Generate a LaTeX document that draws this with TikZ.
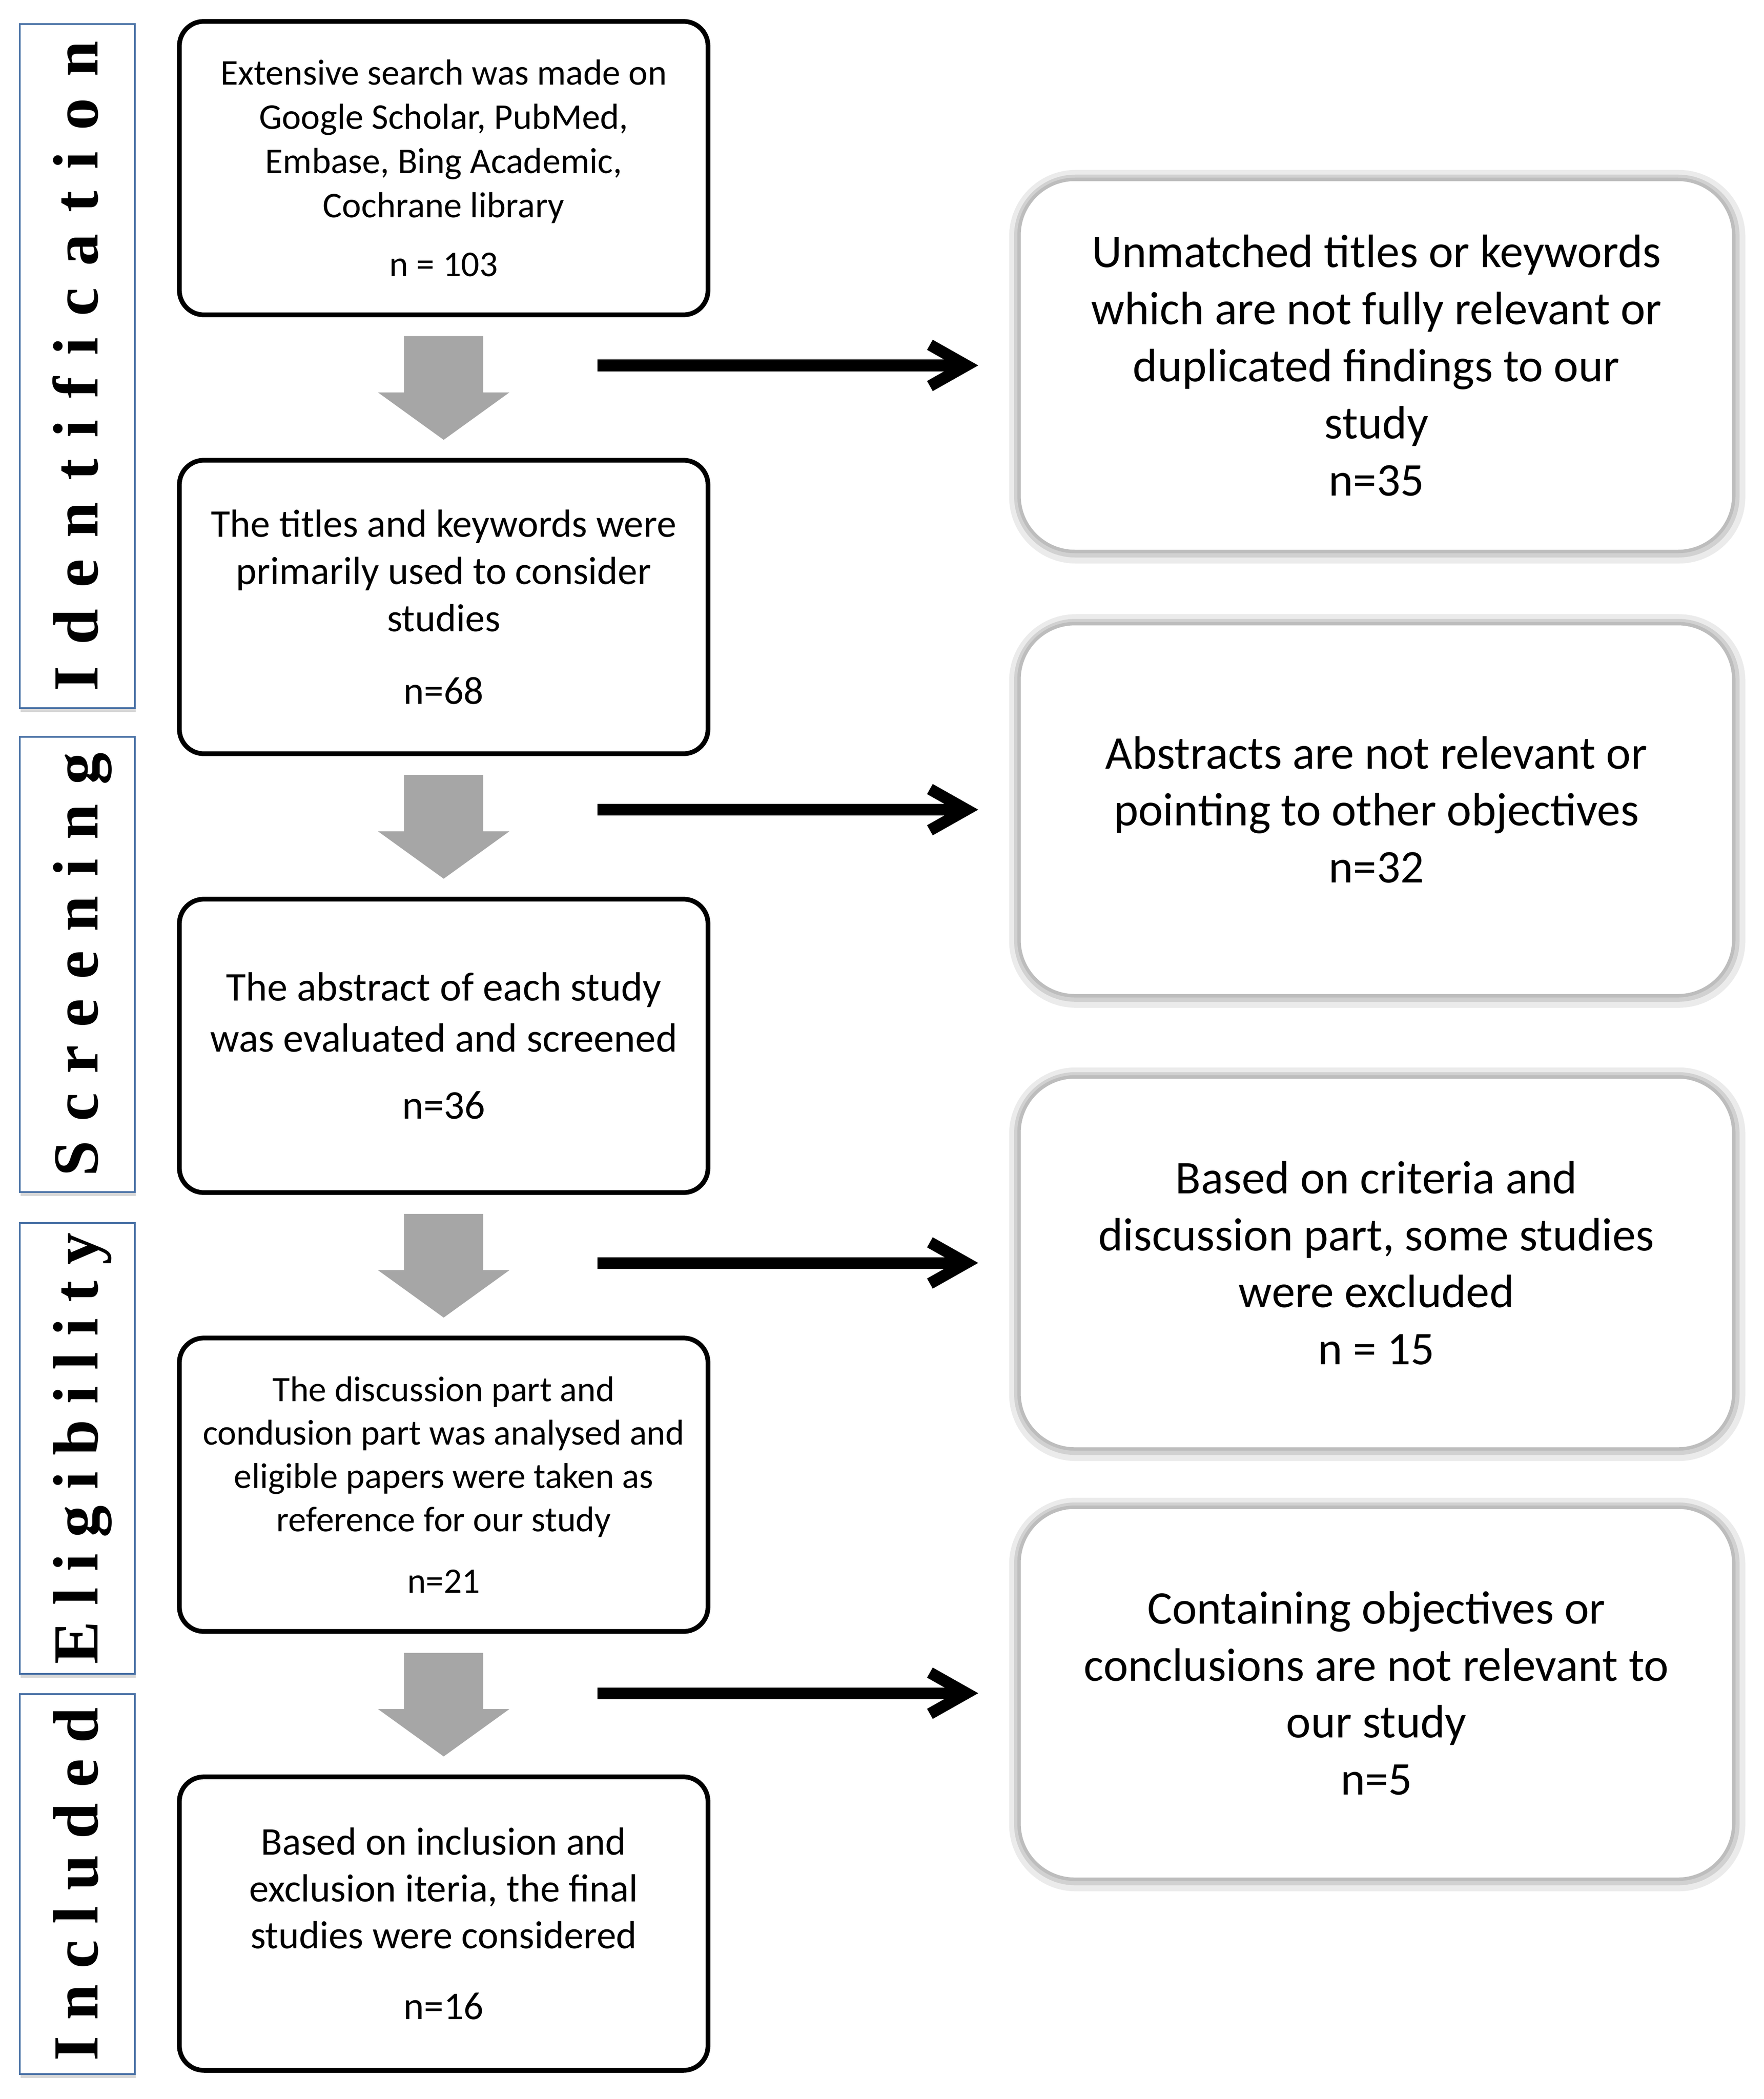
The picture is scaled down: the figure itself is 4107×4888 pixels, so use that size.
\documentclass[tikz,border=0pt]{standalone}
\usepackage{fontspec}
\setmainfont{Carlito}
\newfontfamily\sbfont{Liberation Serif}
\usetikzlibrary{arrows.meta,calc,shadows}
\definecolor{sbblue}{RGB}{74,114,166}
\definecolor{garrowc}{RGB}{166,166,166}
\begin{document}
\begin{tikzpicture}[x=0.01cm,y=-0.01cm,
  lbox/.style={draw=black, line width=0.11cm, rounded corners=0.57cm, fill=white,
    minimum width=12.3cm, minimum height=6.83cm, align=center, inner sep=0pt,
    drop shadow={shadow xshift=0.035cm, shadow yshift=-0.045cm, fill=gray!55, opacity=0.8}},
  rbox/.style={draw=gray!52, line width=0.08cm, rounded corners=1.3cm, fill=white,
    minimum width=16.63cm, minimum height=8.66cm, align=center, inner sep=0pt,
    preaction={draw=gray!16, line width=0.5cm, transform canvas={xshift=0.02cm,yshift=-0.03cm}},
    preaction={draw=gray!36, line width=0.25cm, transform canvas={xshift=0.01cm,yshift=-0.015cm}},
    font=\fontsize{31}{37.8}\selectfont},
  sbox/.style={draw=sbblue, line width=0.04cm, fill=white, minimum width=2.68cm, inner sep=0pt,
    drop shadow={shadow xshift=0.02cm, shadow yshift=-0.09cm, fill=gray!45, opacity=0.7}},
  slabel/.style={rotate=90, anchor=base, inner sep=0pt,
    font=\sbfont\bfseries\fontsize{42.5}{50}\selectfont},
  garrow/.style={fill=garrowc, draw=none},
  harrow/.style={line width=0.27cm, -{Straight Barb[length=0.85cm,width=0.96cm]}}
]
\useasboundingbox (0,0) rectangle (4107,4888);

% side bars
\node[sbox, minimum height=15.93cm] (s1) at (180,852.5) {};
\node[sbox, minimum height=10.60cm] (s2) at (180,2246) {};
\node[sbox, minimum height=10.50cm] (s3) at (180,3373) {};
\node[sbox, minimum height=8.85cm] (s4) at (180,4387.5) {};
\node[slabel] (t1) at ([xshift=0.47cm]s1.center) {\addfontfeature{LetterSpace=33.5}Identification};
\node[slabel] (t2) at ([xshift=0.47cm]s2.center) {\addfontfeature{LetterSpace=30}Screening};
\node[slabel] (t3) at ([xshift=0.47cm]s3.center) {\addfontfeature{LetterSpace=25}Eligibility};
\node[slabel] (t4) at ([xshift=0.47cm]s4.center) {\addfontfeature{LetterSpace=24.7}Included};

% left boxes
\node[lbox, font=\fontsize{24}{29.3}\selectfont] (b1) at (1033,391.5)
  {Extensive search was made on\\ Google Scholar, PubMed,\\ Embase, Bing Academic,\\ Cochrane library\\[9.7pt] n = 103};
\node[lbox, font=\fontsize{26}{31.3}\selectfont] (b2) at (1033,1413.5)
  {The titles and keywords were\\ primarily used to consider\\ studies\\[16.5pt] n=68};
\node[lbox, font=\fontsize{27}{33.6}\selectfont] (b3) at (1033,2435.5)
  {The abstract of each study\\ was evaluated and screened\\[10.8pt] n=36};
\node[lbox, font=\fontsize{23.7}{28.7}\selectfont] (b4) at (1033,3457.5)
  {The discussion part and\\ condusion part was analysed and\\ eligible papers were taken as\\ reference for our study\\[12pt] n=21};
\node[lbox, font=\fontsize{26}{31}\selectfont] (b5) at (1033,4479.5)
  {Based on inclusion and\\ exclusion iteria, the final\\ studies were considered\\[16pt] n=16};

% right boxes
\node[rbox] (r1) at (3204.5,851)
  {Unmatched titles or keywords\\ which are not fully relevant or\\ duplicated findings to our\\ study\\ n=35};
\node[rbox] (r2) at (3204.5,1885.5)
  {Abstracts are not relevant or\\ pointing to other objectives\\ n=32};
\node[rbox] (r3) at (3204.5,2941)
  {Based on criteria and\\ discussion part, some studies\\ were excluded\\ n = 15};
\node[rbox] (r4) at (3204.5,3943)
  {Containing objectives or\\ conclusions are not relevant to\\ our study\\ n=5};

% grey down arrows
\foreach \a/\b in {b1/b2,b2/b3,b3/b4,b4/b5}{
  \fill[garrow] ([xshift=-0.92cm,yshift=-0.44cm]\a.south) -- ([xshift=0.92cm,yshift=-0.44cm]\a.south)
    -- ([xshift=0.92cm,yshift=-1.75cm]\a.south) -- ([xshift=1.53cm,yshift=-1.75cm]\a.south)
    -- ([yshift=0.42cm]\b.north) -- ([xshift=-1.53cm,yshift=-1.75cm]\a.south)
    -- ([xshift=-0.92cm,yshift=-1.75cm]\a.south) -- cycle;
}

% black horizontal arrows
\foreach \a/\r in {b1/r1,b2/r2,b3/r3,b4/r4}{
  \draw[harrow] ($(\a.east |- \r.west)+(-263,0)$) -- ($(\r.west)+(-91,0)$);
}
\end{tikzpicture}
\end{document}
